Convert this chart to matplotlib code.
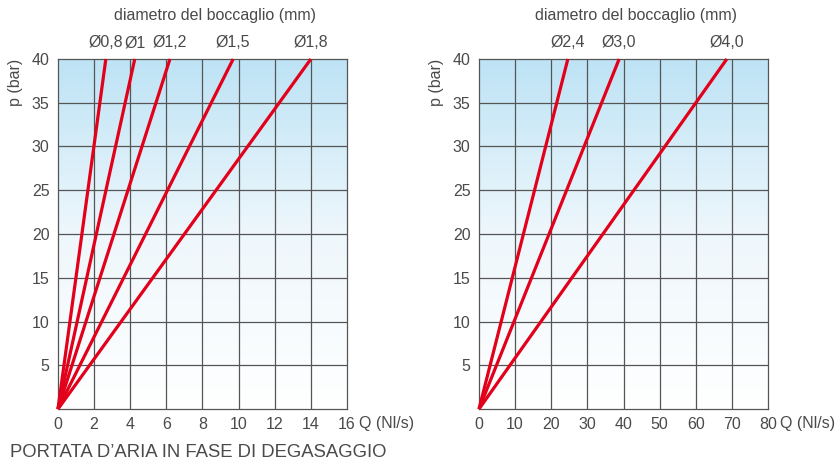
import matplotlib
matplotlib.use("Agg")
import matplotlib.pyplot as plt
import numpy as np
from matplotlib.colors import LinearSegmentedColormap

plt.rcParams['font.family'] = ['Liberation Sans', 'DejaVu Sans']

# flow (Nl/s) reached at p = 40 bar for each nozzle
left_labels = ['Ø0,8', 'Ø1', 'Ø1,2', 'Ø1,5', 'Ø1,8']
left_q40 = [2.65, 4.25, 6.2, 9.7, 14.0]
right_labels = ['Ø2,4', 'Ø3,0', 'Ø4,0']
right_q40 = [24.6, 38.8, 68.6]

p_max = 40
p_ticks = [5, 10, 15, 20, 25, 30, 35, 40]
left_xticks = [0, 2, 4, 6, 8, 10, 12, 14, 16]
right_xticks = [0, 10, 20, 30, 40, 50, 60, 70, 80]

txt = '#4a4a4a'
red = '#e2001a'
grid = '#555555'
fs = 11.5
cmap = LinearSegmentedColormap.from_list('bg', ['#ffffff', '#eef7fc', '#bde3f5'])

fig = plt.figure(figsize=(8.39, 4.63), dpi=100)


def panel(rect, xticks, q40, labels):
    ax = fig.add_axes(rect)
    xmax = xticks[-1]
    grad = np.linspace(0, 1, 256).reshape(-1, 1)
    ax.imshow(grad, extent=[0, xmax, 0, p_max], origin='lower', aspect='auto',
              cmap=cmap, zorder=0)
    ax.set_xlim(0, xmax)
    ax.set_ylim(0, p_max)
    for x in xticks[1:-1]:
        ax.axvline(x, color=grid, lw=0.9, zorder=1)
    for y in p_ticks[:-1]:
        ax.axhline(y, color=grid, lw=0.9, zorder=1)
    for q, lab in zip(q40, labels):
        ax.plot([0, q], [0, p_max], color=red, lw=2.3, solid_capstyle='butt', zorder=3,
                clip_on=False)
        ax.text(q, p_max + 1.85, lab, ha='center', va='center', color=txt, fontsize=fs)
    ax.text(0.542, 1.125, 'diametro del boccaglio (mm)', transform=ax.transAxes,
            ha='center', va='center', color=txt, fontsize=fs)
    ax.set_xticks(xticks)
    ax.set_xticklabels([str(x) for x in xticks])
    ax.set_yticks(p_ticks)
    ax.tick_params(length=0, colors=txt, labelsize=fs, pad=6)
    for s in ax.spines.values():
        s.set_color(grid)
        s.set_linewidth(0.9)
    ax.text(xmax * 1.04, -1.65, 'Q (Nl/s)', ha='left', va='center', color=txt,
            fontsize=fs)
    ax.set_ylabel('p (bar)', color=txt, fontsize=fs)
    ax.yaxis.set_label_coords(-0.12, 0.934)
    return ax


panel([0.0691, 0.1166, 0.3445, 0.756], left_xticks, left_q40, left_labels)
panel([0.5709, 0.1166, 0.3445, 0.756], right_xticks, right_q40, right_labels)

fig.text(0.0115, 0.012, "PORTATA D’ARIA IN FASE DI DEGASAGGIO", color=txt, fontsize=13.3)

fig.savefig('out.png', dpi=100)
